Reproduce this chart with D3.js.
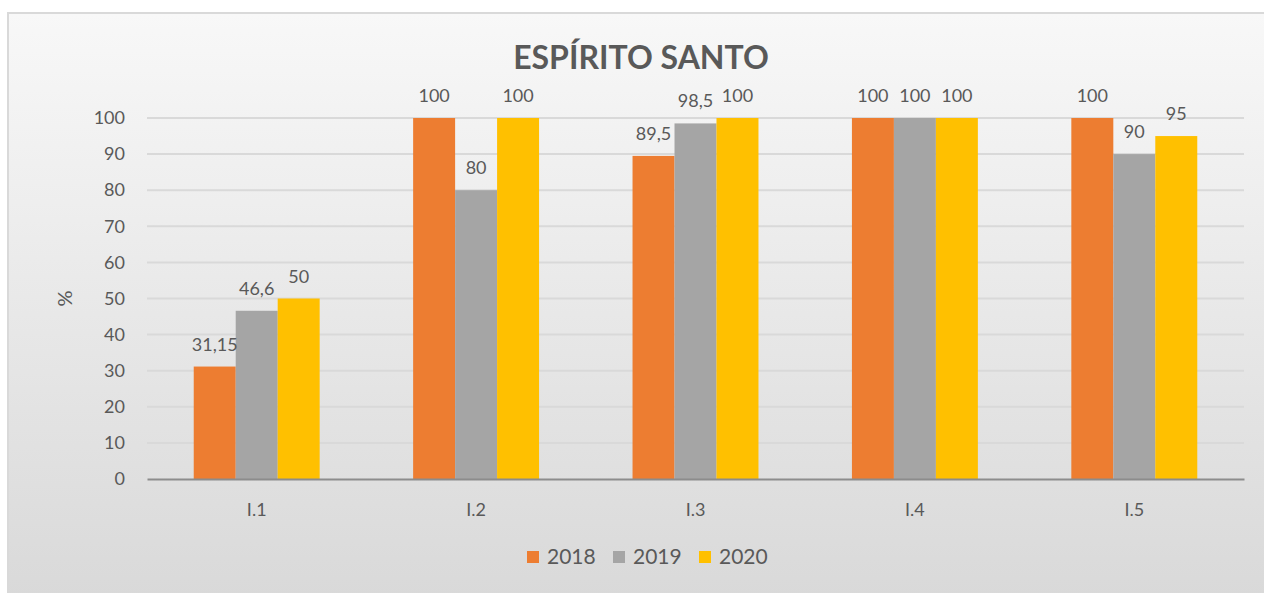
<!DOCTYPE html>
<html>
<head>
<meta charset="utf-8">
<script src="https://cdn.jsdelivr.net/npm/d3@7"></script>
<style>
  body { margin: 0; background: #fff; }
  svg { display: block; }
  text { font-family: Lato, "Open Sans", sans-serif; fill: #595959; }
</style>
</head>
<body>
<svg id="chart"></svg>
<script>
// data
var categories = ["I.1", "I.2", "I.3", "I.4", "I.5"];
var years = ["2018", "2019", "2020"];
var v2018 = [31.15, 100, 89.5, 100, 100];
var v2019 = [46.6, 80, 98.5, 100, 90];
var v2020 = [50, 100, 100, 100, 95];
var yTicks = [0, 10, 20, 30, 40, 50, 60, 70, 80, 90, 100];
var colors = ["#ED7D31", "#A5A5A5", "#FFC000"];

var W = 1264, H = 593;
var margin = {top: 118, right: 20, bottom: 114, left: 147};
var width = W - margin.left - margin.right,
    height = H - margin.top - margin.bottom;

var svg = d3.select("#chart").attr("width", W).attr("height", H);

// chart background
var defs = svg.append("defs");
var grad = defs.append("linearGradient").attr("id", "bg")
  .attr("x1", 0).attr("y1", 0).attr("x2", 0).attr("y2", 1);
grad.append("stop").attr("offset", "0%").attr("stop-color", "#f8f8f8");
grad.append("stop").attr("offset", "100%").attr("stop-color", "#d8d8d8");

svg.append("rect")
  .attr("x", 8).attr("y", 13)
  .attr("width", W + 10).attr("height", H + 10)
  .attr("fill", "url(#bg)")
  .attr("stroke", "#d9d9d9").attr("stroke-width", 2);

// title
svg.append("text")
  .attr("x", 641).attr("y", 69)
  .attr("text-anchor", "middle")
  .style("font-size", "32px").style("font-weight", "bold")
  .text("ESPÍRITO SANTO");

var g = svg.append("g").attr("transform", "translate(" + margin.left + "," + margin.top + ")");

var x0 = d3.scaleBand().domain(categories).range([0, width]).paddingInner(0.426).paddingOuter(0.213);
var x1 = d3.scaleBand().domain(years).range([0, x0.bandwidth()]);
var y = d3.scaleLinear().domain([0, 100]).range([height, 0]);

// gridlines
g.append("g").selectAll("line").data(yTicks.slice(1)).enter().append("line")
  .attr("x1", 0).attr("x2", width)
  .attr("y1", function(d) { return y(d); })
  .attr("y2", function(d) { return y(d); })
  .attr("stroke", "#d9d9d9").attr("stroke-width", 2);

// y axis labels
var yAxis = g.append("g").call(d3.axisLeft(y).tickValues(yTicks).tickSize(0).tickPadding(22));
yAxis.select(".domain").remove();
yAxis.selectAll("text").style("font-size", "18px").attr("fill", "#595959");

// y title
svg.append("text")
  .attr("transform", "translate(72," + (margin.top + height / 2) + ") rotate(-90)")
  .attr("text-anchor", "middle")
  .style("font-size", "20px")
  .text("%");

// bars
var series = [v2018, v2019, v2020];
var rows = categories.map(function(c, i) {
  return years.map(function(yr, j) { return {cat: c, year: yr, value: series[j][i], j: j}; });
});

var groups = g.selectAll(".grp").data(rows).enter().append("g")
  .attr("transform", function(d, i) { return "translate(" + x0(categories[i]) + ",0)"; });

groups.selectAll("rect").data(function(d) { return d; }).enter().append("rect")
  .attr("x", function(d) { return x1(d.year); })
  .attr("width", x1.bandwidth())
  .attr("y", function(d) { return y(d.value); })
  .attr("height", function(d) { return height - y(d.value); })
  .attr("fill", function(d) { return colors[d.j]; });

groups.selectAll("text").data(function(d) { return d; }).enter().append("text")
  .attr("x", function(d) { return x1(d.year) + x1.bandwidth() / 2; })
  .attr("y", function(d) { return y(d.value) - 16; })
  .attr("text-anchor", "middle")
  .style("font-size", "18px")
  .text(function(d) { return String(d.value).replace(".", ","); });

// x axis
var xAxis = g.append("g").attr("transform", "translate(0," + height + ")")
  .call(d3.axisBottom(x0).tickSize(0).tickPadding(24));
xAxis.select(".domain").attr("stroke", "#8c8c8c").attr("stroke-width", 2);
xAxis.selectAll("text").style("font-size", "18px").attr("fill", "#595959");

// legend
var legend = svg.append("g").attr("transform", "translate(527,551)");
var items = legend.selectAll("g").data(years).enter().append("g")
  .attr("transform", function(d, i) { return "translate(" + (i * 86) + ",0)"; });
items.append("rect").attr("width", 12).attr("height", 12)
  .attr("fill", function(d, i) { return colors[i]; });
items.append("text").attr("x", 20).attr("y", 13)
  .style("font-size", "21px")
  .text(function(d) { return d; });
</script>
</body>
</html>
